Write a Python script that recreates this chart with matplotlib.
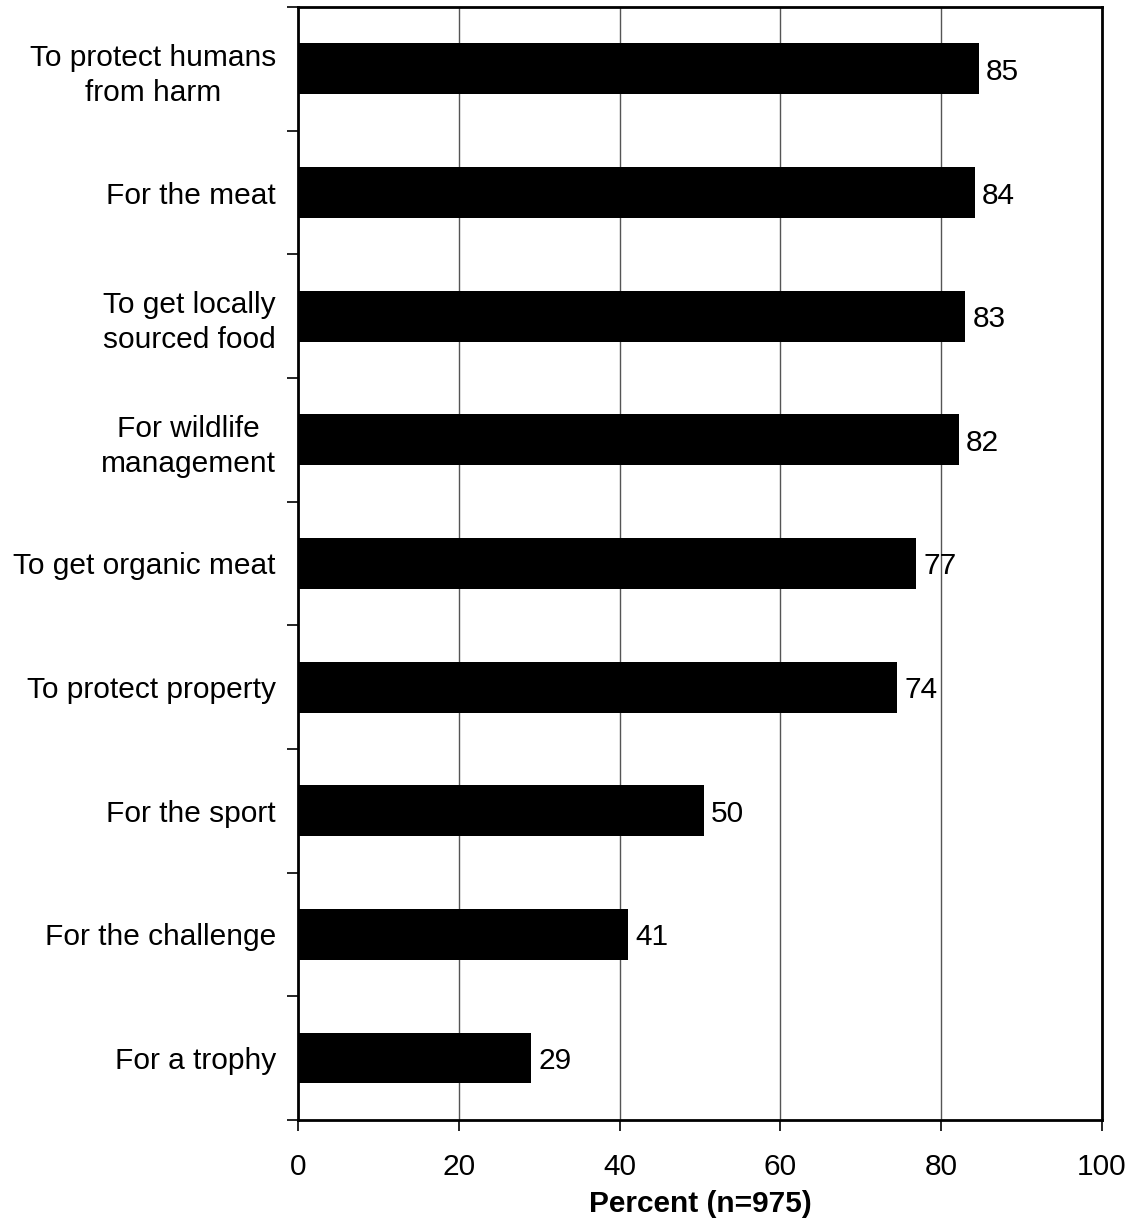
import numpy as np
import matplotlib.pyplot as plt
from matplotlib.ticker import MultipleLocator

plt.rcParams['font.family'] = ['Liberation Sans', 'DejaVu Sans']

# Reasons for hunting, top to bottom
reasons = ['To protect humans\nfrom harm', 'For the meat', 'To get locally\nsourced food',
           'For wildlife\nmanagement', 'To get organic meat', 'To protect property',
           'For the sport', 'For the challenge', 'For a trophy']
percent = [84.7, 84.2, 83.0, 82.2, 76.9, 74.5, 50.5, 41.0, 29.0]
labels = ['85', '84', '83', '82', '77', '74', '50', '41', '29']

fs = 21.5

fig = plt.figure(figsize=(11.32, 12.31), dpi=100)
ax = fig.add_axes([0.2633, 0.0902, 0.9735 - 0.2633, 0.9943 - 0.0902])

y = np.arange(len(reasons))
ax.barh(y, percent, height=0.41, color='black', zorder=3)

for yi, v, lab in zip(y, percent, labels):
    ax.text(v + 0.9, yi, lab, va='center_baseline', ha='left', fontsize=fs, zorder=4)

ax.set_xlim(0, 100)
ax.set_ylim(len(reasons) - 0.5, -0.5)
ax.xaxis.set_major_locator(MultipleLocator(20))
ax.grid(axis='x', color='#555555', linewidth=1.0, zorder=0)

ax.set_yticks(y)
ax.set_yticklabels(reasons, fontsize=fs)
for t in ax.get_yticklabels():
    t.set_multialignment('center')
    t.set_linespacing(1.32)
ax.set_yticks(np.arange(len(reasons) + 1) - 0.5, minor=True)
ax.tick_params(axis='y', which='major', length=0, pad=16)
ax.tick_params(axis='y', which='minor', length=8, width=1.2, direction='out')
ax.tick_params(axis='x', which='major', length=8, width=1.2, direction='out', pad=16, labelsize=fs)

for s in ax.spines.values():
    s.set_linewidth(2)

ax.set_xlabel('Percent (n=975)', fontsize=fs, fontweight='bold', labelpad=6)

fig.savefig('out.png', dpi=100)
